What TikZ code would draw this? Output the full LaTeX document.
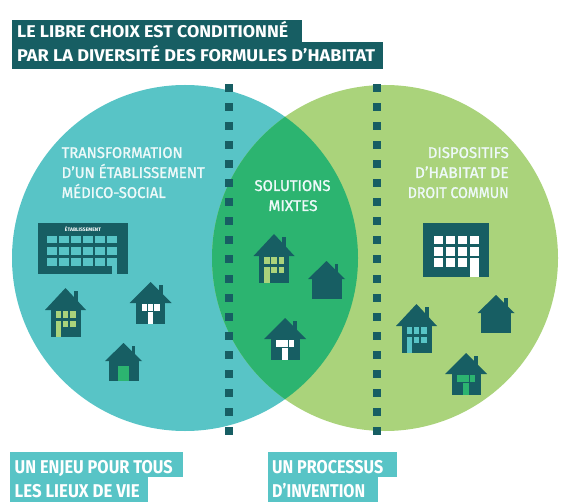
\documentclass[tikz,border=0pt]{standalone}
\usepackage{fontspec}
\usepackage{graphicx}
\setmainfont{Fira Sans}
\newfontfamily\circfont{Fira Sans}[FakeBold=1.2]
\usetikzlibrary{positioning}
\definecolor{darkTeal}{RGB}{23,94,99}
\definecolor{circTeal}{RGB}{88,196,198}
\definecolor{circLime}{RGB}{170,211,123}
\definecolor{mixGreen}{RGB}{44,180,112}
\colorlet{softWhite}{white!90!circTeal}

% text squeezed to a given width (pt)
\newsavebox\fitbox
\newcommand\fitw[2]{\sbox\fitbox{#2}\pgfmathsetmacro\fitf{#1/\the\wd\fitbox}\scalebox{\fitf}[1]{\usebox\fitbox}}

\tikzset{
  titletext/.style={anchor=base west, inner sep=0pt, text=white, font=\fontsize{17}{20}\selectfont\bfseries},
  tagtext/.style={anchor=base west, inner sep=0pt, text=white, font=\fontsize{18.5}{22}\selectfont\bfseries},
  circtext/.style={inner sep=0pt, text=softWhite, font=\circfont\fontsize{15.5}{20}\selectfont},
  pics/housetall/.style={code={
    \fill[darkTeal] (-15,-30) rectangle (15,0);
    \fill[darkTeal] (-20.5,-27) -- (0,-49) -- (20.5,-27) -- cycle;
    \fill[darkTeal] (8,-46) rectangle (12,-36);
    \foreach \x in {-10,-2.75,4.5} {\fill[#1] (\x,-26.5) rectangle ++(5.5,7.5);}
    \foreach \x in {-2.75,4.5} {\fill[#1] (\x,-16.5) rectangle ++(5.5,6.5);}
    \fill[#1] (-10,-16.5) rectangle (-4.5,0);
  }},
  pics/housewide/.style={code={
    \fill[darkTeal] (-14.5,-24) rectangle (14.5,0);
    \fill[darkTeal] (-21,-21) -- (0,-42) -- (21,-21) -- cycle;
    \fill[darkTeal] (8,-39) rectangle (12,-29);
    \foreach \x in {-9,-2.75,3.5} {\fill[#1] (\x,-20) rectangle ++(5.5,6.5);}
    \fill[#1] (-2.75,-12) rectangle (2.75,0);
  }},
  pics/housesmall/.style={code={
    \fill[darkTeal] (-15,-22) rectangle (15,0);
    \fill[darkTeal] (-18.5,-20) -- (0,-38) -- (18.5,-20) -- cycle;
    \fill[darkTeal] (8,-35) rectangle (11.5,-26);
    \fill[#1] (-5.3,-15) rectangle (5.3,0);
  }},
}

\begin{document}
\begin{tikzpicture}[x=1pt,y=-1pt]
  \useasboundingbox (0,0) rectangle (577,502);
%  circles
  \fill[circTeal] (185,258) circle (173);
  \fill[circLime] (385,258) circle (173);
  \begin{scope}
    \clip (185,258) circle (173);
    \fill[mixGreen] (385,258) circle (173);
  \end{scope}

%  title
  \fill[darkTeal] (12,20) rectangle (302,42);
  \fill[darkTeal] (12,42) rectangle (383,69);
  \node[titletext] (titleA) at (17,38) {\fitw{271}{LE LIBRE CHOIX EST CONDITIONNÉ}};
  \node[titletext] (titleB) at (17,62) {\fitw{358}{PAR LA DIVERSITÉ DES FORMULES D’HABITAT}};

%  circle texts
  \node[circtext, anchor=base west] (leftA) at (61.5,158) {\fitw{121}{TRANSFORMATION}};
  \node[circtext, anchor=base west] (leftB) at (61.5,178) {\fitw{143}{D’UN ÉTABLISSEMENT}};
  \node[circtext, anchor=base west] (leftC) at (61.5,198) {\fitw{104}{MÉDICO-SOCIAL}};
  \node[circtext, anchor=base] (midA) at (292.5,191) {\fitw{76}{SOLUTIONS}};
  \node[circtext, anchor=base] (midB) at (293,211) {\fitw{49}{MIXTES}};
  \node[circtext, anchor=base east] (rightA) at (509,158) {\fitw{81}{DISPOSITIFS}};
  \node[circtext, anchor=base east] (rightB) at (509,178) {\fitw{94}{D’HABITAT DE}};
  \node[circtext, anchor=base east] (rightC) at (509,198) {\fitw{101}{DROIT COMMUN}};

%  dotted lines
  \foreach \i in {0,...,18} {
    \fill[darkTeal] (225,{84+19.05*\i}) rectangle ++(8,8);
    \fill[darkTeal] (373,{84+19.05*\i}) rectangle ++(8,8);
  }

%  buildings
  \fill[darkTeal] (38,223) rectangle (128,274);
  \foreach \c in {0,...,5} {
    \foreach \r in {0,1,2} {
      \fill[circTeal] ({46.7+12.15*\c},{236+11.2*\r}) rectangle ++(9.8,7.5);
    }
  }
  \fill[circTeal] (111.5,258) rectangle (117.3,274);
  \node[inner sep=0pt, text=white, font=\fontsize{5}{5}\selectfont\bfseries] (etabLabel) at (83,229) {ÉTABLISSEMENT};

  \fill[darkTeal] (423,223) rectangle (489,277);
  \foreach \c in {0,...,3} {
    \foreach \r in {0,1,2} {
      \fill[white] ({434+12*\c},{236+11.2*\r}) rectangle ++(9.3,8.5);
    }
  }
  \fill[white] (470,258) rectangle (479.3,277);

%  houses
  \pic (houseLa) at (65.5,337) {housetall=circLime};
  \pic (houseLb) at (150.5,324) {housewide=white};
  \pic (houseLc) at (123.5,381) {housesmall=mixGreen};
  \pic (houseMa) at (274,283) {housetall=circLime};
  \pic (houseMb) at (285,360) {housewide=white};
  \pic (houseMc) at (326.5,299) {housesmall=darkTeal};
  \pic (houseRa) at (416.5,353) {housetall=circTeal};
  \pic (houseRb) at (466,395) {housewide=mixGreen};
  \pic (houseRc) at (496,333) {housesmall=darkTeal};

%  bottom tags
  \fill[circTeal] (10,452) rectangle (183,477);
  \fill[circTeal] (10,477) rectangle (148,502);
  \fill[circTeal] (268,452) rectangle (397,477);
  \fill[circTeal] (268,477) rectangle (378,502);
  \node[tagtext] (tagA) at (14.5,473) {\fitw{158}{UN ENJEU POUR TOUS}};
  \node[tagtext] (tagB) at (14.5,497) {\fitw{125}{LES LIEUX DE VIE}};
  \node[tagtext] (tagC) at (272,473) {\fitw{111}{UN PROCESSUS}};
  \node[tagtext] (tagD) at (272,497) {\fitw{93}{D’INVENTION}};
\end{tikzpicture}
\end{document}
